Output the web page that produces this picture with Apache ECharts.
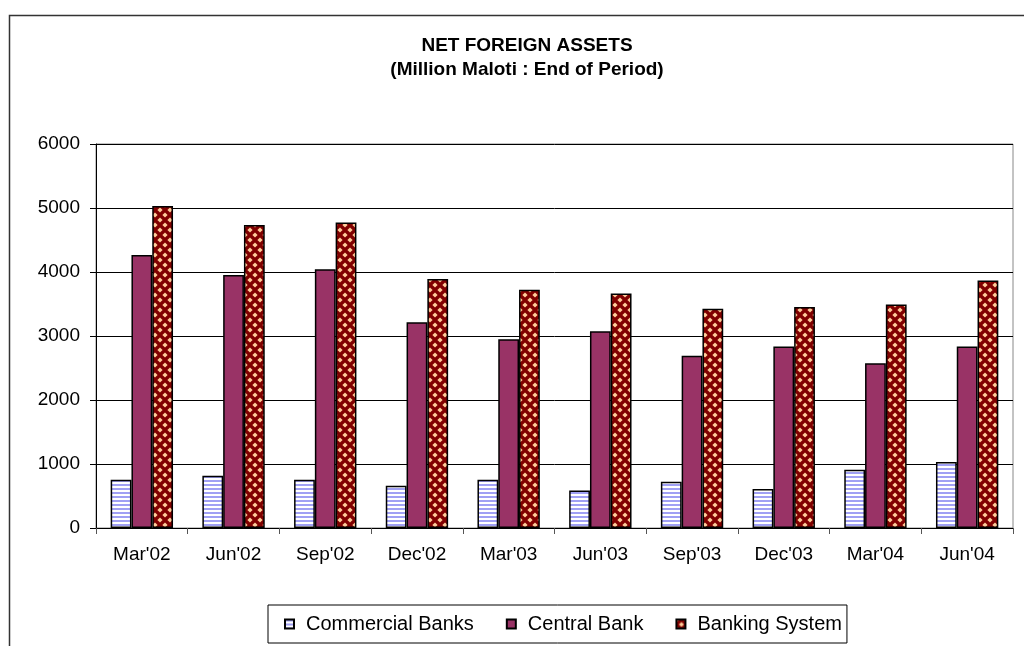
<!DOCTYPE html>
<html>
<head>
<meta charset="utf-8">
<script src="https://cdn.jsdelivr.net/npm/echarts@6/dist/echarts.min.js"></script>
<style>
  html, body { margin: 0; padding: 0; background: #fff; }
  #main { width: 1024px; height: 646px; }
</style>
</head>
<body>
<div id="main"></div>
<script>
var categories = ["Mar'02", "Jun'02", "Sep'02", "Dec'02", "Mar'03", "Jun'03", "Sep'03", "Dec'03", "Mar'04", "Jun'04"];
var commercialBanks = [754, 817, 754, 660, 754, 587, 723, 609, 910, 1030];
var centralBank = [4267, 3955, 4044, 3216, 2951, 3076, 2690, 2835, 2576, 2835];
var bankingSystem = [5032, 4735, 4772, 3892, 3721, 3663, 3424, 3455, 3491, 3866];
var yTicks = [0, 1000, 2000, 3000, 4000, 5000, 6000];

// horizontal blue stripes
function stripePattern() {
    var c = document.createElement('canvas');
    c.width = 4; c.height = 4;
    var ctx = c.getContext('2d');
    ctx.fillStyle = '#ffffff';
    ctx.fillRect(0, 0, 4, 4);
    ctx.fillStyle = '#a0a0f4';
    ctx.fillRect(0, 0, 4, 2);
    return c;
}

// dark red with peach diamonds
function diamondPattern() {
    var s = 10;
    var c = document.createElement('canvas');
    c.width = s; c.height = s;
    var ctx = c.getContext('2d');
    ctx.fillStyle = '#800000';
    ctx.fillRect(0, 0, s, s);
    ctx.fillStyle = '#ffcc99';
    var pts = [[s / 2, s / 2], [0, 0], [s, 0], [0, s], [s, s]];
    for (var i = 0; i < pts.length; i++) {
        var x = pts[i][0], y = pts[i][1], r = 2.6;
        ctx.beginPath();
        ctx.moveTo(x, y - r);
        ctx.lineTo(x + r, y);
        ctx.lineTo(x, y + r);
        ctx.lineTo(x - r, y);
        ctx.closePath();
        ctx.fill();
    }
    return c;
}

var font = 'Liberation Sans';
var myChart = echarts.init(document.getElementById('main'));

var option = {
    backgroundColor: '#fff',
    animation: false,
    title: {
        text: 'NET FOREIGN ASSETS\n(Million Maloti : End of Period)',
        left: 522,
        top: 29,
        textAlign: 'center',
        textStyle: {
            fontFamily: font,
            fontSize: 19,
            fontWeight: 'bold',
            color: '#000',
            lineHeight: 24
        }
    },
    graphic: [{
        type: 'rect',
        left: 7,
        top: 13,
        shape: { width: 1100, height: 700 },
        style: { fill: 'none', stroke: '#333', lineWidth: 1.5 },
        silent: true
    }],
    legend: {
        left: 268,
        top: 605,
        itemWidth: 9,
        itemHeight: 9,
        itemGap: 32,
        icon: 'rect',
        borderColor: '#000',
        borderWidth: 1,
        padding: [9, 5, 9, 16],
        textStyle: {
            fontFamily: font,
            fontSize: 20,
            color: '#000',
            padding: [0, 0, 0, 7]
        },
        data: ['Commercial Banks', 'Central Bank', 'Banking System']
    },
    grid: {
        left: 96,
        right: 11,
        top: 144,
        bottom: 118,
        show: true,
        borderColor: '#888',
        borderWidth: 1
    },
    xAxis: {
        type: 'category',
        data: categories,
        axisLine: { lineStyle: { color: '#000', width: 1 } },
        axisTick: { show: true, length: 6, lineStyle: { color: '#555' } },
        axisLabel: {
            fontFamily: font,
            fontSize: 19,
            color: '#000',
            margin: 17
        }
    },
    yAxis: {
        type: 'value',
        min: yTicks[0],
        max: yTicks[yTicks.length - 1],
        interval: 1000,
        axisLine: { show: true, lineStyle: { color: '#000', width: 1 } },
        axisTick: { show: true, length: 6, lineStyle: { color: '#000' } },
        splitLine: { lineStyle: { color: '#000', width: 1 } },
        axisLabel: {
            fontFamily: font,
            fontSize: 19,
            color: '#000',
            margin: 16,
            formatter: function (v) { return String(v); }
        }
    },
    series: [
        {
            name: 'Commercial Banks',
            type: 'bar',
            data: commercialBanks,
            barGap: '0%',
            barCategoryGap: '32%',
            itemStyle: {
                color: { image: stripePattern(), repeat: 'repeat' },
                borderColor: '#000',
                borderWidth: 1.5
            }
        },
        {
            name: 'Central Bank',
            type: 'bar',
            data: centralBank,
            itemStyle: {
                color: '#993366',
                borderColor: '#000',
                borderWidth: 1.5
            }
        },
        {
            name: 'Banking System',
            type: 'bar',
            data: bankingSystem,
            itemStyle: {
                color: { image: diamondPattern(), repeat: 'repeat' },
                borderColor: '#000',
                borderWidth: 1.5
            }
        }
    ]
};

myChart.setOption(option);
</script>
</body>
</html>
